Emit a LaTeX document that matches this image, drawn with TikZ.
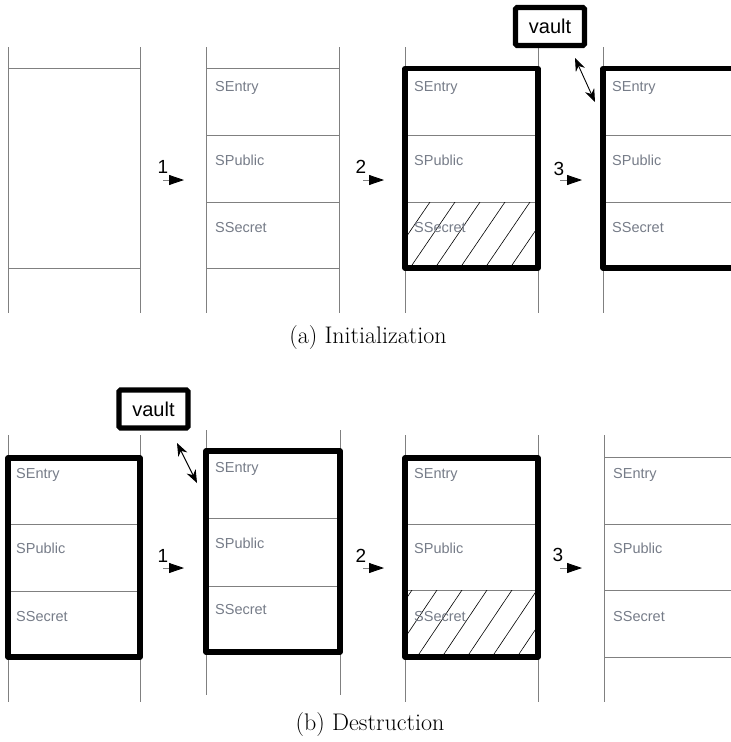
\documentclass[tikz,border=0pt]{standalone}
\usepackage{fontspec}
\usetikzlibrary{arrows.meta}
\newfontfamily\labsans{Liberation Sans}
\definecolor{linegray}{RGB}{128,128,128}
\definecolor{lblgray}{RGB}{118,124,136}
\tikzset{
  wall/.style={draw=linegray, line width=1pt},
  thickbox/.style={draw=black, line width=5.2pt, line join=round},
  lbl/.style={font=\labsans\fontsize{14.5}{16}\selectfont, text=lblgray, anchor=base west, inner sep=0pt},
  num/.style={font=\labsans\fontsize{19}{21}\selectfont, inner sep=0pt},
  steparrow/.style={draw=linegray, line width=0.8pt, -{Triangle[length=15pt,width=10pt,black]}},
  vaultbox/.style={draw, line width=5.2pt, rounded corners=1.5pt, minimum width=69pt, minimum height=38pt, font=\labsans\fontsize{20}{22}\selectfont, inner sep=0pt},
  duplex/.style={line width=0.9pt, {Stealth[length=13pt,width=10pt]}-{Stealth[length=13pt,width=10pt]}},
  hatchline/.style={draw=black, line width=0.6pt},
  captxt/.style={font=\fontsize{24}{28}\selectfont, inner sep=0pt}
}
\begin{document}
\begin{tikzpicture}[x=1pt,y=-1pt]
\useasboundingbox (0,0) rectangle (731,742);
\clip (0,0) rectangle (731,742);

% ---------------- (a) Initialization ----------------
% A1
\draw[wall] (8,47) -- (8,313);
\draw[wall] (140,47) -- (140,313);
\draw[wall] (8,68) -- (140,68);
\draw[wall] (8,268) -- (140,268);

% A2
\draw[wall] (206,47) -- (206,313);
\draw[wall] (339,47) -- (339,313);
\foreach \y in {68,135,202,268} \draw[wall] (206,\y) -- (339,\y);
\node[lbl] (a2e) at (215,91) {SEntry};
\node[lbl] (a2p) at (215,165) {SPublic};
\node[lbl] (a2s) at (215,232) {SSecret};

% A3
\draw[wall] (405,47) -- (405,313);
\draw[wall] (538,47) -- (538,313);
\foreach \y in {135,202} \draw[wall] (405,\y) -- (538,\y);
\begin{scope}
  \clip (405,202) rectangle (538,268);
  \foreach \x in {360,385,...,560} \draw[hatchline] (\x,268) -- ++(45,-66);
\end{scope}
\draw[thickbox] (405,68.5) rectangle (538,268);
\node[lbl] (a3e) at (414,91) {SEntry};
\node[lbl] (a3p) at (414,165) {SPublic};
\node[lbl] (a3s) at (414,232) {SSecret};

% A4
\draw[wall] (603,47) -- (603,313);
\foreach \y in {135,202} \draw[wall] (603,\y) -- (740,\y);
\draw[thickbox] (603,68.5) rectangle (736,268);
\node[lbl] (a4e) at (612,91) {SEntry};
\node[lbl] (a4p) at (612,165) {SPublic};
\node[lbl] (a4s) at (612,232) {SSecret};

% vault (a)
\node[vaultbox] (va) at (550,26.5) {vault};
\coordinate (vaS) at (575,58);
\coordinate (vaE) at (595,102);
\draw[duplex] (vaS) -- (vaE);

% step arrows (a)
\coordinate (a1s) at (163,180); \coordinate (a1e) at (184,180);
\coordinate (a2s) at (363,180); \coordinate (a2t) at (384,180);
\coordinate (a3s) at (560,180); \coordinate (a3t) at (582,180);
\draw[steparrow] (a1s) -- (a1e);
\draw[steparrow] (a2s) -- (a2t);
\draw[steparrow] (a3s) -- (a3t);
\node[num] (n1a) at (163,167) {1};
\node[num] (n2a) at (361,167) {2};
\node[num] (n3a) at (559,169) {3};

\node[captxt] (capa) at (368,338) {(a) Initialization};

% ---------------- (b) Destruction ----------------
% B1
\draw[wall] (8,435) -- (8,702);
\draw[wall] (140,435) -- (140,702);
\foreach \y in {524,591} \draw[wall] (8,\y) -- (140,\y);
\draw[thickbox] (8,458) rectangle (140,657);
\node[lbl] (b1e) at (16,478) {SEntry};
\node[lbl] (b1p) at (16,553) {SPublic};
\node[lbl] (b1s) at (16,621) {SSecret};

% B2
\draw[wall] (206,430) -- (206,695);
\draw[wall] (340,430) -- (340,695);
\foreach \y in {518,586} \draw[wall] (206,\y) -- (340,\y);
\draw[thickbox] (206,451) rectangle (340,652);
\node[lbl] (b2e) at (215,472) {SEntry};
\node[lbl] (b2p) at (215,548) {SPublic};
\node[lbl] (b2s) at (215,614) {SSecret};

% B3
\draw[wall] (405,435) -- (405,702);
\draw[wall] (538,435) -- (538,702);
\foreach \y in {524,590} \draw[wall] (405,\y) -- (538,\y);
\begin{scope}
  \clip (405,590) rectangle (538,657);
  \foreach \x in {367,392,...,567} \draw[hatchline] (\x,657) -- ++(45,-67);
\end{scope}
\draw[thickbox] (405,458) rectangle (538,657);
\node[lbl] (b3e) at (414,478) {SEntry};
\node[lbl] (b3p) at (414,553) {SPublic};
\node[lbl] (b3s) at (414,621) {SSecret};

% B4
\draw[wall] (604,435) -- (604,702);
\foreach \y in {457,524,590,657} \draw[wall] (604,\y) -- (740,\y);
\node[lbl] (b4e) at (613,478) {SEntry};
\node[lbl] (b4p) at (613,553) {SPublic};
\node[lbl] (b4s) at (613,621) {SSecret};

% vault (b)
\node[vaultbox] (vb) at (153.5,409) {vault};
\coordinate (vbS) at (177,443);
\coordinate (vbE) at (197,483);
\draw[duplex] (vbS) -- (vbE);

% step arrows (b)
\coordinate (b1s) at (163,568); \coordinate (b1t) at (184,568);
\coordinate (b2s) at (363,568); \coordinate (b2t) at (384,568);
\coordinate (b3s) at (560,568); \coordinate (b3t) at (582,568);
\draw[steparrow] (b1s) -- (b1t);
\draw[steparrow] (b2s) -- (b2t);
\draw[steparrow] (b3s) -- (b3t);
\node[num] (n1b) at (163,556) {1};
\node[num] (n2b) at (361,556) {2};
\node[num] (n3b) at (558,555) {3};

\node[captxt] (capb) at (370,725) {(b) Destruction};
\end{tikzpicture}
\end{document}
